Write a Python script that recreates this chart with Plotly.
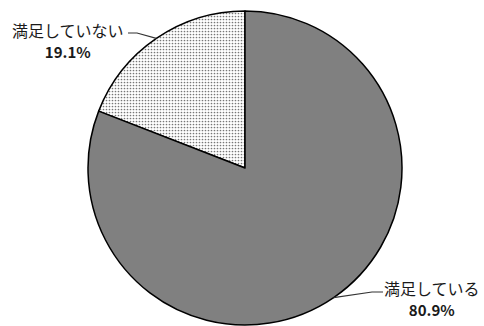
import math
import plotly.graph_objects as go

# survey result: satisfaction
labels = ["満足していない", "満足している"]
values = [19.1, 80.9]
colors = ["white", "#808080"]
patterns = [".", ""]

W, H = 484, 326
# pie placement in pixels (center / radius)
cx, cy, r = 245, 168, 157

total = sum(values)
# first slice ends at 12 o'clock, so the pie starts that far to the left
rot = -values[0] / total * 360

fig = go.Figure()

fig.add_trace(go.Pie(
    labels=labels,
    values=values,
    sort=False,
    direction="clockwise",
    rotation=rot,
    textinfo="none",
    hoverinfo="label+percent",
    marker=dict(
        colors=colors,
        line=dict(color="black", width=1.5),
        pattern=dict(shape=patterns, fgcolor="#777777", size=3, solidity=0.25),
    ),
    domain=dict(x=[(cx - r) / W, (cx + r) / W], y=[1 - (cy + r) / H, 1 - (cy - r) / H]),
    showlegend=False,
))


def px(x, y):
    return x / W, 1 - y / H


# label text positions (pixels) and where leader line leaves the text
label_pos = [(68, 40), (432, 298)]
line_start = [(128, 33), (383, 292)]
line_knee = [(137, 33), (372, 292)]

shapes = []
annotations = []
cum = 0
for i, (lab, v) in enumerate(zip(labels, values)):
    mid = math.radians(rot + (cum + v / 2) / total * 360)
    cum += v
    ex = cx + r * math.sin(mid)
    ey = cy - r * math.cos(mid)
    x0, y0 = px(*line_start[i])
    x1, y1 = px(*line_knee[i])
    x2, y2 = px(ex, ey)
    shapes.append(dict(
        type="path", xref="paper", yref="paper",
        path=f"M {x0} {y0} L {x1} {y1} L {x2} {y2}",
        line=dict(color="#333333", width=1.2),
    ))
    lx, ly = px(*label_pos[i])
    annotations.append(dict(
        x=lx, y=ly, xref="paper", yref="paper",
        xanchor="center", yanchor="middle",
        text=f"{lab}<br><span style='font-size:15px'><b>{v}%</b></span>",
        showarrow=False,
        font=dict(family="Noto Sans CJK JP", size=16, color="#1a1a1a"),
        align="center",
    ))

fig.update_layout(
    width=W,
    height=H,
    margin=dict(l=0, r=0, t=0, b=0),
    paper_bgcolor="white",
    plot_bgcolor="white",
    shapes=shapes,
    annotations=annotations,
)

# drop the page's default body margin so the figure sits at the window's corner
fig.write_html("out.html", config={"displayModeBar": False},
               post_script="document.body.style.margin='0';")
